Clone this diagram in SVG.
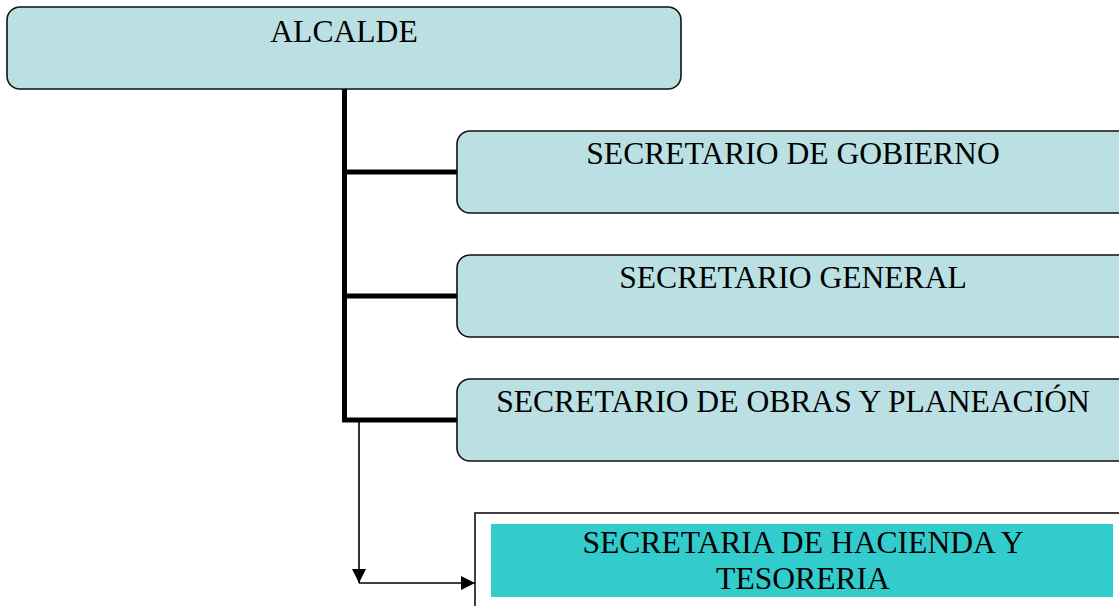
<svg xmlns="http://www.w3.org/2000/svg" width="1119" height="606" viewBox="0 0 1119 606">
<style>
.box{fill:#BAE0E3;stroke:#111;stroke-width:1.6}
.t{font-family:"Liberation Serif","Times New Roman",serif;font-size:31.6px;fill:#000;text-anchor:middle}
.thick{fill:none;stroke:#000;stroke-width:5}
.thin{fill:none;stroke:#000;stroke-width:1.6}
</style>
<defs>
<marker id="ah" viewBox="0 0 14 14" refX="14" refY="7" markerWidth="14" markerHeight="14" markerUnits="userSpaceOnUse" orient="auto">
<path d="M0,0 L14,7 L0,14 Z" fill="#000"/>
</marker>
</defs>
<rect width="1119" height="606" fill="#fff"/>
<g id="connectors">
<path class="thick" d="M344.5,89 V420 H457"/>
<path class="thick" d="M344.5,172 H457"/>
<path class="thick" d="M344.5,296 H457"/>
<path class="thin" d="M359,422 V583" marker-end="url(#ah)"/>
<path class="thin" d="M359,583 H475" marker-end="url(#ah)"/>
</g>
<g id="alcalde">
<rect class="box" x="7" y="7" width="674" height="82" rx="13"/>
<text class="t" x="344" y="42">ALCALDE</text>
</g>
<g id="gobierno">
<rect class="box" x="457" y="131" width="690" height="82" rx="13"/>
<text class="t" x="793" y="164">SECRETARIO DE GOBIERNO</text>
</g>
<g id="general">
<rect class="box" x="457" y="255" width="690" height="82" rx="13"/>
<text class="t" x="793" y="288">SECRETARIO GENERAL</text>
</g>
<g id="obras">
<rect class="box" x="457" y="379" width="690" height="82" rx="13"/>
<text class="t" x="793" y="412">SECRETARIO DE OBRAS Y PLANEACIÓN</text>
</g>
<g id="hacienda">
<rect x="475" y="513" width="700" height="120" fill="#fff" stroke="#111" stroke-width="1.6"/>
<rect x="491" y="524" width="622" height="73" fill="#33CCCC"/>
<text class="t" x="803" y="553">SECRETARIA DE HACIENDA Y</text>
<text class="t" x="803" y="589">TESORERIA</text>
</g>
</svg>
